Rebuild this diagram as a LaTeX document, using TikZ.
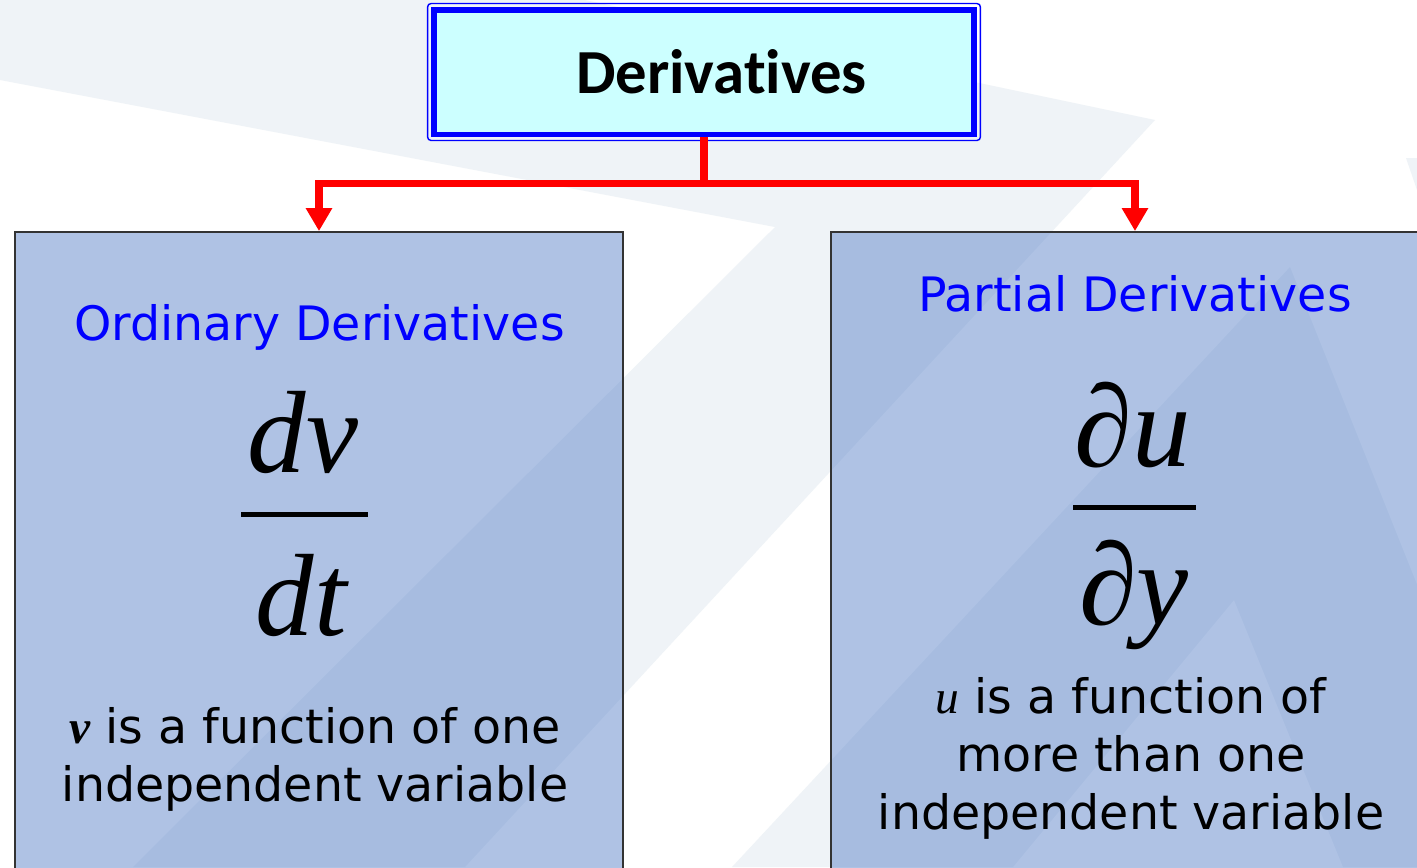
\documentclass[tikz,border=0pt]{standalone}
\usepackage{fontspec}
\setmainfont{DejaVu Sans}
\newfontfamily\calfont[Ligatures=NoCommon]{Carlito}
\newfontfamily\timesfont{Liberation Serif}
\usetikzlibrary{arrows.meta,positioning,calc}
\definecolor{dvcyan}{HTML}{CCFFFF}
\definecolor{dvpale}{HTML}{EFF3F7}
\definecolor{dvfill}{HTML}{6187CB}
\definecolor{dvedge}{HTML}{333333}
\tikzset{
  dvtitle/.style={draw=blue,fill=dvcyan,line width=3.4pt,minimum width=10.82cm,minimum height=2.5cm,inner sep=0pt,font=\calfont\bfseries\fontsize{35.7}{40}\selectfont},
  dvbox/.style={draw=dvedge,line width=1.1pt,fill=dvfill,fill opacity=0.5,minimum width=12.16cm,minimum height=13.6cm},
  dvhead/.style={text=blue,font=\fontsize{27}{33}\selectfont,inner sep=0pt},
  dvfrac/.style={font=\timesfont\itshape\fontsize{66.6}{80}\selectfont,inner sep=0pt},
  dvbar/.style={fill=black,minimum height=0.1cm,inner sep=0pt,outer sep=0pt},
  dvnote/.style={align=center,font=\fontsize{27}{33}\selectfont,inner sep=0pt},
  dvline/.style={red,line width=4pt},
  dvarr/.style={dvline,-{Triangle[length=0.46cm,width=0.5cm]}}
}
\begin{document}
\begin{tikzpicture}[x=0.02cm,y=-0.02cm]
\useasboundingbox (0,0) rectangle (1417,867);
\clip (0,0) rectangle (1417,867);
\fill[white] (0,0) rectangle (1417,867);
% faint backdrop
\fill[dvpale] (0,0) -- (585,0) -- (1155,120) -- (465,867) -- (133,867) -- (775,227) -- (0,80) -- cycle;
\fill[dvpale] (1290,267) -- (732,867) -- (1013,867) -- (1234,600) -- (1343,867) -- (1530,867) -- cycle;
\fill[dvpale] (1406,158) -- (1417,158) -- (1417,190) -- cycle;

% boxes
\node (title) [dvtitle] at (704,72) {\hspace*{0.7cm}Derivatives};
\draw[blue,line width=0.8pt,rounded corners=2pt] ($(title.north west)+(-3,-3)$) rectangle ($(title.south east)+(3,3)$);
\node (ordbox) [dvbox] at (319,572) {};
\node (parbox) [dvbox] at (1135,572) {};

% connectors
\draw[dvline] (title.south) -- ++(0,46) coordinate (fork);
\draw[dvarr] (fork) -| (ordbox.north);
\draw[dvarr] (fork) -| (parbox.north);

% ordinary
\node (ordhead) [dvhead,anchor=base] at (319.5,340) {Ordinary Derivatives};
\node (dvnum) [dvfrac,anchor=base] at (303,472.5) {dv};
\node (dvbar) [dvbar,minimum width=2.54cm] at (304.5,514) {};
\node (dvden) [dvfrac,anchor=base] at (301,635) {dt};
\node (ordnote) [dvnote,anchor=base] at (315,801) {{\timesfont\bfseries\itshape v} is a function of one\\independent variable};

% partial
\node (parhead) [dvhead,anchor=base] at (1135,311) {Partial Derivatives};
\node (dunum) [dvfrac,anchor=base] at (1133,466) {{\upshape ∂}u};
\node (dubar) [dvbar,minimum width=2.46cm] at (1134.5,507.5) {};
\node (duden) [dvfrac,anchor=base] at (1134,624) {{\upshape ∂}y};
\node (parnote) [dvnote,anchor=base] at (1131,829) {{\timesfont\itshape u} is a function of\\more than one\\independent variable};
\end{tikzpicture}
\end{document}
